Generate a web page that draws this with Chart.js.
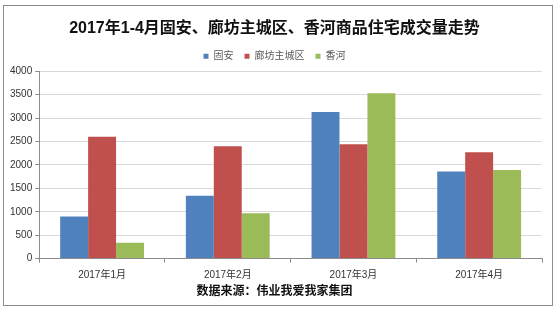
<!DOCTYPE html>
<html>
<head>
<meta charset="utf-8">
<script src="https://cdn.jsdelivr.net/npm/chart.js@4"></script>
<style>
  html, body { margin: 0; padding: 0; background: #fff; }
  #wrap { width: 555px; height: 312px; }
</style>
</head>
<body>
<div id="wrap"><canvas id="salesChart" width="555" height="312"></canvas></div>
<script>
const months = ['2017年1月', '2017年2月', '2017年3月', '2017年4月'];
const guan = [900, 1340, 3130, 1860];
const langfang = [2600, 2400, 2440, 2270];
const xianghe = [340, 970, 3530, 1890];

const FONT = "'Liberation Sans', 'Noto Sans CJK SC', sans-serif";

// outer frame like the spreadsheet chart box
const framePlugin = {
  id: 'frame',
  beforeDraw(chart) {
    const ctx = chart.ctx;
    ctx.save();
    ctx.fillStyle = '#fff';
    ctx.fillRect(0, 0, chart.width, chart.height);
    ctx.strokeStyle = '#8c8c8c';
    ctx.lineWidth = 1;
    ctx.strokeRect(3.5, 5.5, 549, 300);
    ctx.restore();
  }
};

const ctx = document.getElementById('salesChart').getContext('2d');
new Chart(ctx, {
  type: 'bar',
  data: {
    labels: months,
    datasets: [
      { label: '固安', data: guan, backgroundColor: '#4F81BD' },
      { label: '廊坊主城区', data: langfang, backgroundColor: '#C0504D' },
      { label: '香河', data: xianghe, backgroundColor: '#9BBB59' },
    ],
  },
  options: {
    responsive: false,
    animation: false,
    layout: { padding: { top: 6, left: 7, right: 13, bottom: 9 } },
    datasets: {
      bar: { categoryPercentage: 0.667, barPercentage: 1 },
    },
    plugins: {
      title: {
        display: true,
        text: '2017年1-4月固安、廊坊主城区、香河商品住宅成交量走势',
        color: '#111',
        font: { family: FONT, size: 16, weight: 'bold' },
        padding: { top: 13, bottom: 2 },
      },
      subtitle: {
        display: true,
        position: 'bottom',
        text: '数据来源：伟业我爱我家集团',
        color: '#111',
        font: { family: FONT, size: 12, weight: 'bold' },
        padding: { top: -4, bottom: 4 },
      },
      legend: {
        display: true,
        position: 'top',
        labels: {
          boxWidth: 5,
          boxHeight: 5,
          padding: 11,
          color: '#595959',
          font: { family: FONT, size: 10 },
        },
      },
      tooltip: { enabled: false },
    },
    scales: {
      x: {
        grid: {
          display: true,
          drawOnChartArea: false,
          tickLength: 4,
          tickColor: '#8c8c8c',
        },
        border: { color: '#8c8c8c' },
        ticks: {
          color: '#333',
          padding: 8,
          font: { family: FONT, size: 10, lineHeight: 1 },
        },
      },
      y: {
        min: 0,
        max: 4000,
        ticks: {
          stepSize: 500,
          color: '#333',
          padding: 3,
          font: { family: FONT, size: 10 },
          callback: (v) => String(v),
        },
        grid: { color: '#d9d9d9', tickLength: 4, tickColor: '#8c8c8c' },
        border: { color: '#8c8c8c' },
      },
    },
  },
  plugins: [framePlugin],
});
</script>
</body>
</html>
